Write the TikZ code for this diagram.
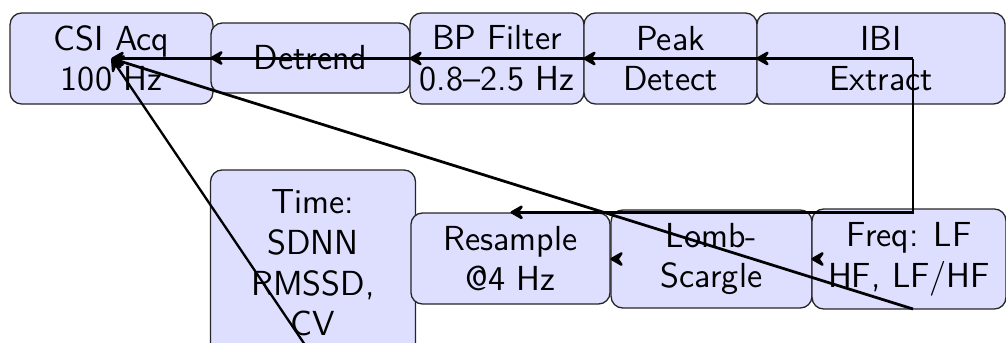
\documentclass[tikz,border=0pt]{standalone}
\usetikzlibrary{arrows.meta}
\begin{document}
\begin{tikzpicture}[x=0.345pt,y=-0.345pt,
  blk/.style={draw=black!85,line width=0.45pt,fill=blue!13,rounded corners=4pt,
    align=center,inner sep=0pt,font=\sffamily\fontsize{12}{14}\selectfont},
  flow/.style={-{Stealth[length=5.6pt,width=6.4pt,inset=2.2pt,round]},line width=0.95pt}]
\useasboundingbox (0,0) rectangle (1006,342);
\clip (0,0) rectangle (1006,342);

% upper row of processing stages
\node[blk,minimum width=70pt,minimum height=31.4pt] (csi) at (111.5,58.5) {CSI Acq\\100 Hz};
\node[blk,minimum width=68.7pt,minimum height=24.2pt] (det) at (310.5,58) {Detrend};
\node[blk,minimum width=60pt,minimum height=31.4pt] (bp) at (497,58.5) {BP Filter\\0.8--2.5 Hz};
\node[blk,minimum width=59.7pt,minimum height=31.4pt] (peak) at (670.5,58.5) {Peak\\Detect};
\node[blk,minimum width=85.6pt,minimum height=31.4pt] (ibi) at (881,58.5) {IBI\\Extract};

% lower row of analysis stages
\node[blk,minimum width=70.7pt,minimum height=64.2pt] (time) at (313,263) {Time:\\SDNN\\RMSSD,\\CV};
\node[blk,minimum width=68.7pt,minimum height=31.4pt] (res) at (510.5,258.5) {Resample\\@4 Hz};
\node[blk,minimum width=69.3pt,minimum height=33.8pt] (lomb) at (711.5,259) {Lomb-\\Scargle};
\node[blk,minimum width=66.9pt,minimum height=34.5pt] (freq) at (909,259) {Freq: LF\\HF, LF/HF};

% connectors
\coordinate (jn) at (913,58.5);
\coordinate (fs) at (913,309);
\draw[flow,line width=1.25pt] (jn) -- (csi.center);
\foreach \n in {det,bp,peak,ibi}
  \draw[flow] ([xshift=1pt]\n.west) -- (\n.west);
\draw[flow] (jn) |- (res.north);
\draw[flow] ([xshift=1pt]lomb.west) -- (lomb.west);
\draw[flow] ([xshift=1pt]freq.west) -- (freq.west);
\draw[flow] (fs) -- (csi.center);
\draw[flow,line width=0.8pt] (time.south) -- (csi.center);
\end{tikzpicture}
\end{document}
